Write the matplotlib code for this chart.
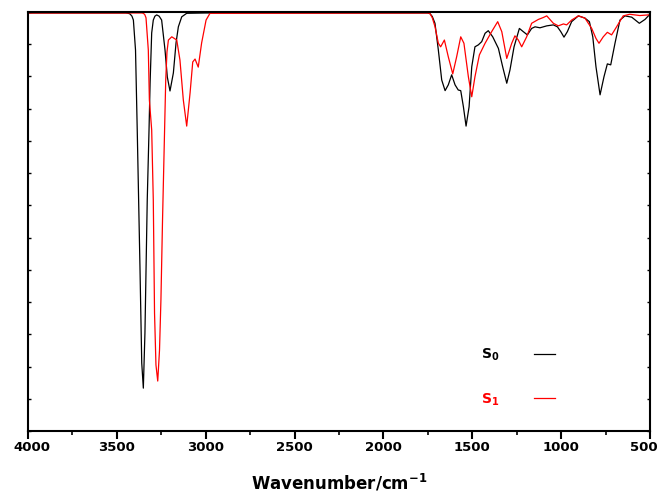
import numpy as np
import matplotlib
matplotlib.use("Agg")
import matplotlib.pyplot as plt
import matplotlib.transforms as mtransforms
from matplotlib.ticker import MultipleLocator

# S0 spectrum (wavenumber, transmittance in arbitrary units)
s0_wn = [4000, 3450, 3436, 3426, 3415, 3407, 3395, 3385, 3370, 3360, 3351, 3342, 3329, 3319,
         3313, 3304, 3295, 3286, 3276, 3262, 3248, 3229, 3216, 3201, 3182, 3167, 3154, 3135,
         3107, 3000, 1750, 1738, 1725, 1710, 1691, 1672, 1653, 1635, 1616, 1597, 1579, 1565,
         1550, 1535, 1518, 1503, 1485, 1466, 1447, 1428, 1410, 1385, 1353, 1329,
         1306, 1288, 1265, 1235, 1213, 1190, 1166, 1147, 1119, 1081, 1044, 1021,
         1002, 984, 965, 941, 903, 866, 841, 822, 804, 781, 759, 740, 721, 697,
         669, 641, 603, 560, 528, 504, 500]
s0_t = [1.297, 1.297, 1.296, 1.294, 1.287, 1.275, 1.182, 0.925, 0.509, 0.211, 0.133, 0.304, 0.717, 0.934,
        1.080, 1.235, 1.275, 1.287, 1.291, 1.287, 1.275, 1.182, 1.098, 1.055, 1.111, 1.204, 1.254, 1.285,
        1.296, 1.297, 1.297, 1.295, 1.286, 1.265, 1.182, 1.089, 1.056, 1.074, 1.105, 1.074, 1.058, 1.056,
        1.006, 0.946, 1.006, 1.130, 1.192, 1.198, 1.208, 1.234, 1.242, 1.223, 1.187, 1.130,
        1.079, 1.120, 1.192, 1.249, 1.239, 1.229, 1.249, 1.254, 1.251, 1.257, 1.260, 1.254,
        1.239, 1.222, 1.239, 1.270, 1.288, 1.281, 1.270, 1.223, 1.130, 1.043, 1.099, 1.139, 1.136, 1.203,
        1.275, 1.288, 1.284, 1.265, 1.277, 1.291, 1.294]

# S1 spectrum
s1_wn = [4000, 3360, 3351, 3343, 3336, 3323, 3317, 3304, 3295, 3288, 3280, 3270, 3260,
         3252, 3243, 3234, 3225, 3218, 3210, 3191, 3163, 3145, 3126, 3107, 3088,
         3073, 3060, 3042, 3023, 2998, 2976, 1750, 1738, 1725, 1710, 1691, 1678, 1657, 1635,
         1610, 1588, 1565, 1547, 1522, 1503, 1485, 1460, 1428, 1391, 1357, 1334,
         1306, 1278, 1260, 1241, 1222, 1194, 1166, 1128, 1100, 1081, 1044, 1016,
         987, 969, 941, 903, 866, 828, 804, 787, 763, 740, 716, 688, 651, 614,
         557, 510, 500]
s1_t = [1.297, 1.297, 1.296, 1.292, 1.282, 1.182, 1.027, 0.934, 0.717, 0.366, 0.205, 0.155, 0.251,
        0.407, 0.655, 0.872, 1.089, 1.176, 1.213, 1.223, 1.213, 1.151, 1.027, 0.946, 1.049,
        1.145, 1.154, 1.129, 1.204, 1.275, 1.296, 1.297, 1.295, 1.282, 1.255, 1.203, 1.192, 1.213, 1.161,
        1.108, 1.161, 1.223, 1.203, 1.099, 1.037, 1.099, 1.167, 1.203, 1.239, 1.270, 1.239,
        1.156, 1.203, 1.226, 1.213, 1.192, 1.223, 1.265, 1.277, 1.283, 1.288, 1.265, 1.257,
        1.263, 1.260, 1.275, 1.288, 1.281, 1.249, 1.218, 1.203, 1.223, 1.237, 1.229, 1.254, 1.288, 1.293,
        1.289, 1.291, 1.291]

xticks = [4000, 3500, 3000, 2500, 2000, 1500, 1000, 500]

fig = plt.figure(figsize=(6.62, 4.94), dpi=100)
ax = fig.add_axes([28/662, 1-431/494, (650-28)/662, (431-12)/494])

ax.plot(s0_wn, s0_t, color='black', lw=0.9, label=r'$\mathbf{S}_{\mathbf{0}}$')
ax.plot(s1_wn, s1_t, color='red', lw=0.9, label=r'$\mathbf{S}_{\mathbf{1}}$')

ax.set_xlim(4000, 500)
ax.set_ylim(0, 1.3)
ax.set_xticks(xticks)
ax.set_xticklabels([])
ax.xaxis.set_minor_locator(MultipleLocator(250))
ax.yaxis.set_major_locator(MultipleLocator(0.1))
ax.tick_params(axis='x', which='major', direction='out', length=6, width=1.5)
ax.tick_params(axis='x', which='minor', direction='out', length=3, width=1.2)
ax.tick_params(axis='y', which='both', direction='in', length=2.5, width=1,
               left=True, right=True, labelleft=False)

# tick labels drawn by hand so the edge ones stay inside the figure
trans = ax.get_xaxis_transform()
for v in xticks:
    dx = 4 if v == 4000 else (-6 if v == 500 else 0)
    t = trans + mtransforms.ScaledTranslation(dx/100, -10/100, fig.dpi_scale_trans)
    ax.text(v, 0, str(v), transform=t, ha='center', va='top',
            fontsize=9.5, fontweight='bold', clip_on=False)

for sp in ax.spines.values():
    sp.set_linewidth(1.5)

ax.set_xlabel(r'Wavenumber/cm$^{\mathregular{-1}}$', fontsize=12, fontweight='bold')
ax.xaxis.set_label_coords(0.5, (431-472)/419)

ax.legend(loc='upper right', bbox_to_anchor=(562/662, 1-340/494), bbox_transform=fig.transFigure,
          frameon=False, markerfirst=False, fontsize=10, handlelength=1.5, handletextpad=2.5,
          labelspacing=2.0, borderpad=0, labelcolor=['black', 'red'])

fig.savefig('out.png', dpi=100)
